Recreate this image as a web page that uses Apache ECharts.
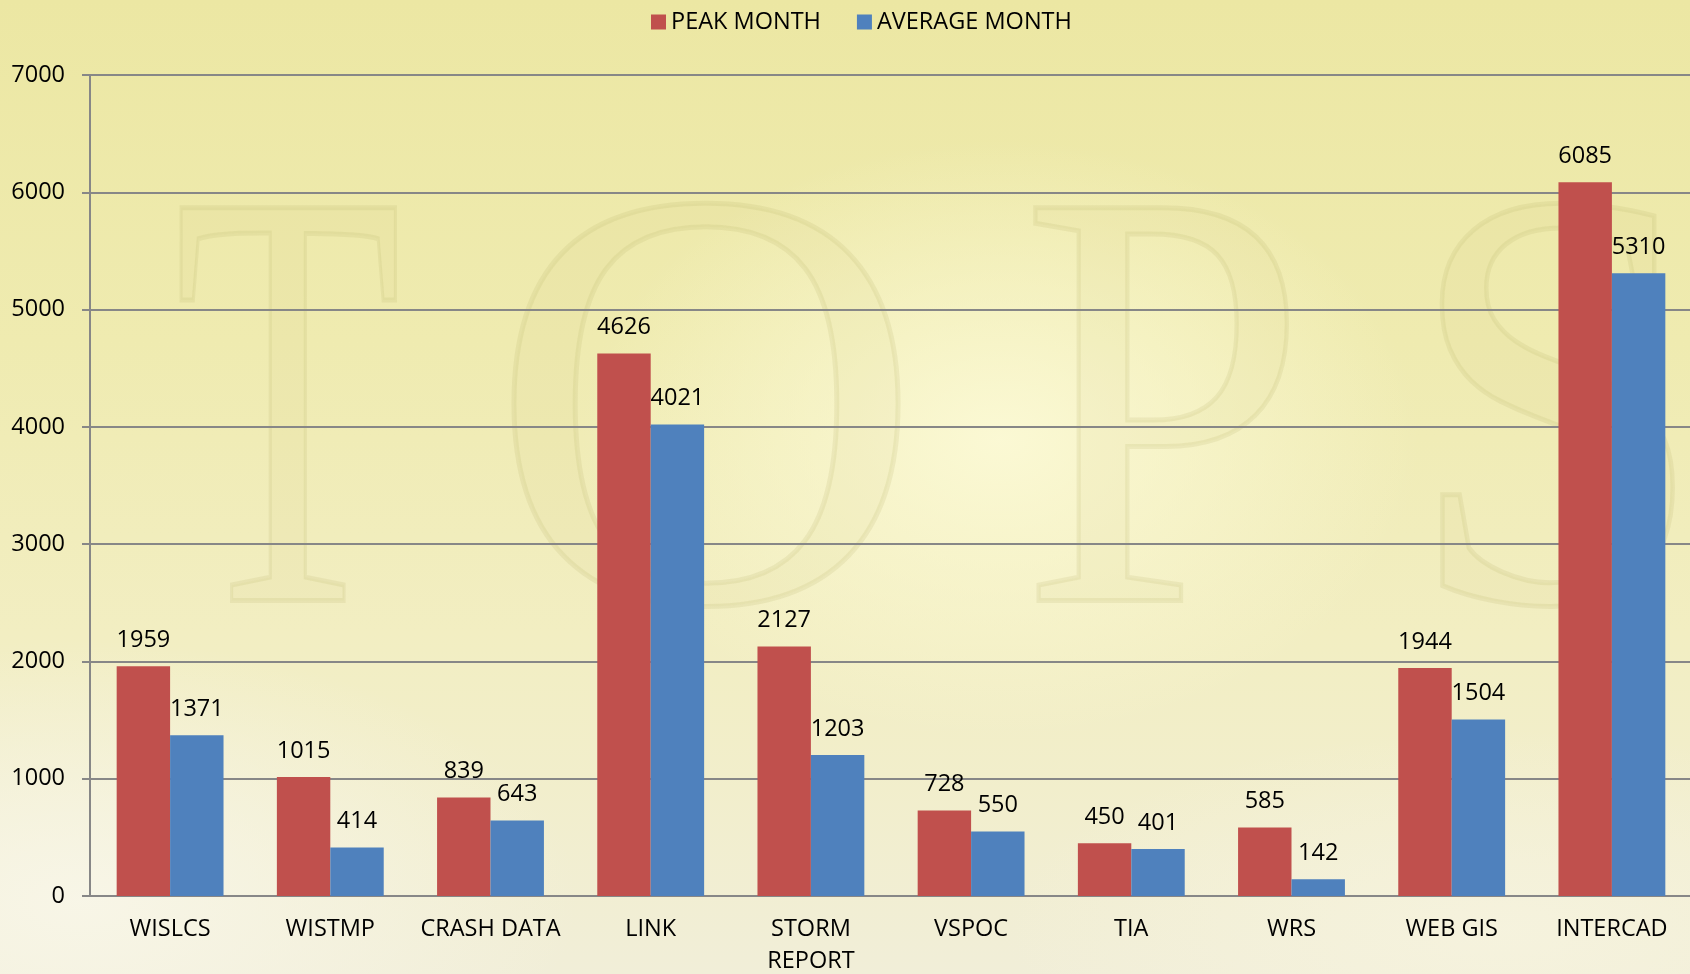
<!DOCTYPE html>
<html>
<head>
<meta charset="utf-8">
<script src="https://cdn.jsdelivr.net/npm/echarts@6/dist/echarts.min.js"></script>
<style>
  html, body { margin: 0; padding: 0; }
  body {
    width: 1690px; height: 974px; overflow: hidden;
    background:
      radial-gradient(ellipse 420px 300px at 1000px 440px, rgba(252,250,215,0.9), rgba(252,250,215,0) 100%),
      radial-gradient(ellipse 500px 260px at 80px 900px, rgba(248,246,232,0.95), rgba(248,246,232,0) 100%),
      radial-gradient(ellipse 500px 200px at 1500px 930px, rgba(246,243,222,0.9), rgba(246,243,222,0) 100%),
      linear-gradient(180deg, #ece7a3 0%, #efebb0 35%, #f2eec2 65%, #f1eed8 100%);
  }
  #main { width: 1690px; height: 974px; }
</style>
</head>
<body>
<div id="main"></div>
<script>
  // chart values
  const categories = ['WISLCS', 'WISTMP', 'CRASH DATA', 'LINK', 'STORM REPORT', 'VSPOC', 'TIA', 'WRS', 'WEB GIS', 'INTERCAD']
  const peakMonth = [1959, 1015, 839, 4626, 2127, 728, 450, 585, 1944, 6085]
  const averageMonth = [1371, 414, 643, 4021, 1203, 550, 401, 142, 1504, 5310]

  const font = '"Open Sans", "Noto Sans", sans-serif'
  const fontSize = 23.5
  const gridColor = '#878787'

  // faint "TOPS" lettering of the background picture
  const watermark = [
    { ch: 'T', x: 288, sx: 0.62 },
    { ch: 'O', x: 706, sx: 1.0 },
    { ch: 'P', x: 1164, sx: 0.86 },
    { ch: 'S', x: 1556, sx: 0.9 }
  ]

  const chart = echarts.init(document.getElementById('main'))
  chart.setOption({
    backgroundColor: 'transparent',
    textStyle: { fontFamily: font },
    graphic: watermark.map(w => ({
      type: 'text',
      z: -10,
      silent: true,
      x: w.x,
      y: 443,
      scaleX: w.sx,
      style: {
        text: w.ch,
        font: '600px "Liberation Serif", "DejaVu Serif", serif',
        fill: 'rgba(205,195,120,0.08)',
        stroke: 'rgba(175,165,95,0.15)',
        lineWidth: 5,
        textAlign: 'center',
        textVerticalAlign: 'middle'
      }
    })),
    legend: {
      left: 651,
      top: 10,
      padding: 0,
      itemWidth: 15,
      itemHeight: 15,
      itemGap: 36,
      icon: 'rect',
      textStyle: { fontSize: fontSize, color: '#000', fontFamily: font },
      data: ['PEAK MONTH', 'AVERAGE MONTH']
    },
    grid: { left: 90, right: -2, top: 75, bottom: 78, containLabel: false, outerBoundsMode: 'none' },
    xAxis: {
      type: 'category',
      data: categories,
      axisLine: { lineStyle: { color: gridColor, width: 2 } },
      axisTick: { length: 7, lineStyle: { color: gridColor, width: 2 } },
      axisLabel: {
        interval: 0,
        margin: 17,
        fontSize: fontSize,
        lineHeight: 32,
        color: '#000',
        formatter: v => v.replace('STORM REPORT', 'STORM\nREPORT')
      }
    },
    yAxis: {
      type: 'value',
      min: 0,
      max: 7000,
      interval: 1000,
      axisLine: { show: true, lineStyle: { color: gridColor, width: 2 } },
      axisTick: { show: true, length: 8, lineStyle: { color: gridColor, width: 2 } },
      splitLine: { lineStyle: { color: gridColor, width: 2 } },
      axisLabel: { margin: 25, fontSize: fontSize, color: '#000', formatter: v => String(v) }
    },
    series: [
      {
        name: 'PEAK MONTH',
        type: 'bar',
        data: peakMonth,
        barGap: '0%',
        barCategoryGap: '33.3%',
        itemStyle: { color: '#c0504d' },
        label: { show: true, position: 'top', distance: 14, fontSize: fontSize, color: '#000' }
      },
      {
        name: 'AVERAGE MONTH',
        type: 'bar',
        data: averageMonth,
        barGap: '0%',
        barCategoryGap: '33.3%',
        itemStyle: { color: '#4f81bd' },
        label: { show: true, position: 'top', distance: 14, fontSize: fontSize, color: '#000' }
      }
    ]
  })
</script>
</body>
</html>
